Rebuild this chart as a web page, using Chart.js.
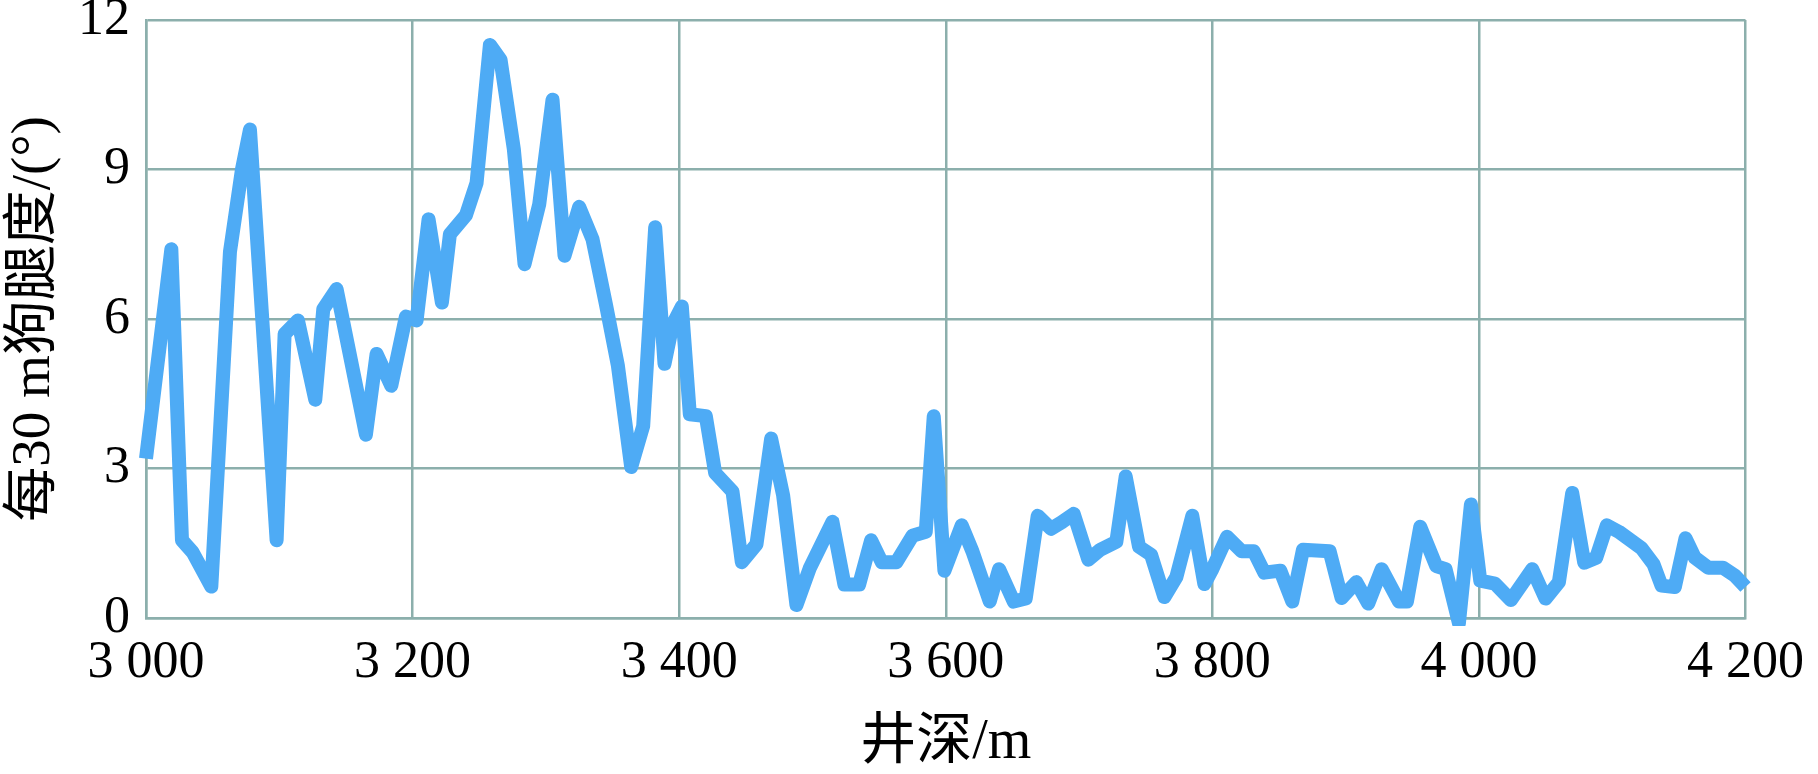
<!DOCTYPE html>
<html>
<head>
<meta charset="utf-8">
<script src="https://cdn.jsdelivr.net/npm/chart.js@4"></script>
<style>
  html, body { margin: 0; padding: 0; background: #fff; }
  #wrap { width: 1818px; height: 774px; }
</style>
</head>
<body>
<div id="wrap"><canvas id="chart" width="1818" height="774"></canvas></div>
<script>
// well depth, m
const depths = [
  3000, 3010, 3019, 3027, 3035, 3049, 3063, 3072, 3078, 3098, 3104, 3114, 3127, 3133, 3143,
  3165, 3173, 3184, 3195, 3203, 3212, 3222, 3228, 3240, 3248, 3258, 3266, 3276, 3284, 3295,
  3305, 3314, 3325, 3335, 3345, 3354, 3364, 3373, 3382, 3389, 3395, 3402, 3408, 3420, 3427,
  3440, 3447, 3458, 3469, 3478, 3488, 3498, 3515, 3524, 3535, 3544, 3552, 3563, 3575, 3585,
  3591, 3599, 3612, 3620, 3633, 3640, 3651, 3660, 3669, 3679, 3687, 3696, 3707, 3716, 3728,
  3735, 3745, 3754, 3764, 3773, 3785, 3794, 3800, 3811, 3822, 3831, 3839, 3851, 3860, 3868,
  3888, 3897, 3908, 3917, 3927, 3940, 3946, 3956, 3968, 3975, 3985, 3994, 4001, 4012, 4024,
  4040, 4050, 4060, 4070, 4079, 4088, 4096, 4105, 4122, 4131, 4137, 4147, 4155, 4162, 4172,
  4183, 4192, 4200
];

// dogleg severity per 30 m, degrees
const dogleg = [
  3.2, 5.4, 7.4, 1.56, 1.32, 0.63, 7.35, 9.0, 9.8, 1.56, 5.7, 5.97, 4.38, 6.2, 6.6,
  3.68, 5.3, 4.66, 6.05, 5.97, 8.0, 6.33, 7.7, 8.08, 8.73, 11.5, 11.2, 9.4, 7.1, 8.3,
  10.4, 7.27, 8.25, 7.6, 6.3, 5.07, 3.03, 3.85, 7.84, 5.1, 5.88, 6.25, 4.09, 4.05, 2.91,
  2.54, 1.12, 1.48, 3.6, 2.46, 0.26, 1.0, 1.93, 0.67, 0.67, 1.56, 1.12, 1.12, 1.65, 1.73,
  4.05, 0.95, 1.86, 1.34, 0.33, 0.98, 0.33, 0.39, 2.05, 1.79, 1.92, 2.09, 1.17, 1.37, 1.53,
  2.84, 1.43, 1.27, 0.42, 0.82, 2.05, 0.68, 0.98, 1.63, 1.34, 1.34, 0.91, 0.95, 0.33, 1.37,
  1.34, 0.4, 0.72, 0.29, 0.98, 0.33, 0.33, 1.83, 1.04, 0.98, -0.1, 2.28, 0.75, 0.69, 0.36,
  0.98, 0.39, 0.72, 2.51, 1.11, 1.21, 1.86, 1.73, 1.40, 1.08, 0.65, 0.62, 1.60, 1.21, 1.01,
  1.01, 0.85, 0.62
];

const xTicks = [3000, 3200, 3400, 3600, 3800, 4000, 4200];
const yTicks = [0, 3, 6, 9, 12];

const GRID = 'rgb(140, 175, 172)';
const LINE = 'rgb(78, 171, 245)';
const FONT = "'Liberation Serif', 'Noto Sans CJK SC', serif";

const points = depths.map(function(d, i) { return { x: d, y: dogleg[i] }; });

new Chart(document.getElementById('chart'), {
  type: 'line',
  data: {
    datasets: [{
      data: points,
      borderColor: LINE,
      borderWidth: 14,
      pointRadius: 0,
      tension: 0,
      borderJoinStyle: 'round',
      clip: 8
    }]
  },
  options: {
    responsive: false,
    animation: false,
    layout: { padding: { top: 20, right: 72, left: 0, bottom: 0 } },
    plugins: { legend: { display: false }, tooltip: { enabled: false } },
    scales: {
      x: {
        type: 'linear',
        min: 3000,
        max: 4200,
        afterBuildTicks: function(axis) { axis.ticks = xTicks.map(function(v) { return { value: v }; }); },
        afterFit: function(axis) { axis.height = 156; },
        grid: { color: GRID, lineWidth: 2.5, drawTicks: false },
        border: { color: GRID, width: 2.5 },
        ticks: {
          color: '#000',
          padding: 14,
          maxRotation: 0,
          font: { family: FONT, size: 52, lineHeight: 1.2 },
          callback: function(v) { return String(v).replace(/(\d)(\d{3})$/, '$1 $2'); }
        },
        title: {
          display: true,
          text: '井深/m',
          color: '#000',
          padding: 0,
          font: { family: FONT, size: 56, lineHeight: 1.1 }
        }
      },
      y: {
        min: 0,
        max: 12,
        afterBuildTicks: function(axis) { axis.ticks = yTicks.map(function(v) { return { value: v }; }); },
        afterFit: function(axis) { axis.width = 146; },
        grid: { color: GRID, lineWidth: 2.5, drawTicks: false },
        border: { color: GRID, width: 2.5 },
        ticks: {
          color: '#000',
          padding: 16,
          font: { family: FONT, size: 52, lineHeight: 0.15 }
        },
        title: {
          display: true,
          text: '每30 m狗腿度/(°)',
          color: '#000',
          padding: 2,
          font: { family: FONT, size: 55, lineHeight: 1.2 }
        }
      }
    }
  }
});
</script>
</body>
</html>
